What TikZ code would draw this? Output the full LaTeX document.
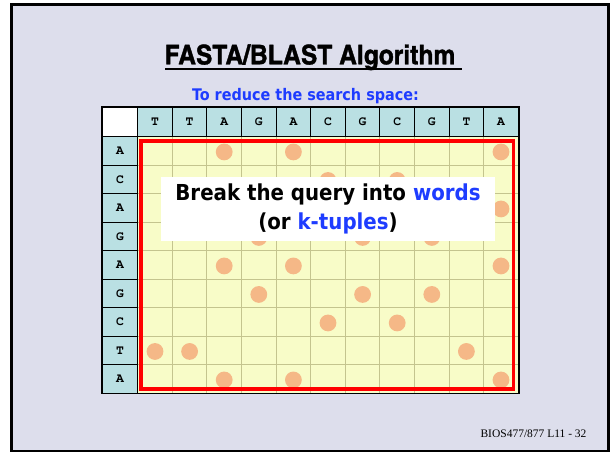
\documentclass[tikz,border=0pt]{standalone}
\usepackage{fontspec}
\setmainfont{DejaVu Sans}
\newfontfamily\titlefont[FakeBold=1.2, FakeStretch=1.11]{texgyreheroscn-bold.otf}
\newfontfamily\notefont{DejaVu Sans Condensed}
\newfontfamily\seqfont{texgyrecursor-bold.otf}
\newfontfamily\footfont{Liberation Serif}

\definecolor{slidebg}{RGB}{221,222,236}
\definecolor{cellyellow}{RGB}{248,252,200}
\definecolor{gridline}{RGB}{196,196,142}
\definecolor{headcyan}{RGB}{186,224,227}
\definecolor{dotpeach}{RGB}{245,184,135}
\definecolor{wordblue}{RGB}{30,60,255}

\tikzset{
  slide/.style={fill=slidebg, draw=black, line width=2.6pt},
  cell/.style={draw=gridline, fill=cellyellow, line width=0.9pt,
    minimum width=34.6pt, minimum height=28.5pt, inner sep=0pt},
  hcell/.style={draw=black, fill=headcyan, line width=1.1pt,
    minimum width=34.6pt, minimum height=28.5pt, inner sep=0pt,
    font=\seqfont\fontsize{13}{13}\selectfont},
  dot/.style={fill=dotpeach},
  hitbox/.style={draw=red, line width=3.4pt},
  notebox/.style={fill=white, minimum width=334pt, minimum height=64pt,
    inner sep=0pt, align=center,
    font=\notefont\bfseries\fontsize{22}{29}\selectfont},
}

\begin{document}
\begin{tikzpicture}[x=1pt, y=-1pt]
\useasboundingbox (0,0) rectangle (610,452);

% slide frame
\draw[slide] (11.3,4.5) rectangle (608.6,451);

% title and subtitle
\node[anchor=base, inner sep=0pt,
      font=\titlefont\fontsize{27}{30}\selectfont] (title) at (310,64.3)
  {FASTA/BLAST Algorithm};
\draw[line width=2pt] (165,69.3) -- (462,69.3);
\node[anchor=base, inner sep=0pt, text=wordblue,
      font=\notefont\bfseries\fontsize{16}{18}\selectfont] (sub) at (305.5,100.7)
  {To reduce the search space:};

% dot-plot cells
\foreach \i in {1,...,11}
  \foreach \j in {1,...,9}
    \node[cell] (c-\i-\j) at ({137.7+(\i-0.5)*34.6},{136.7+(\j-0.5)*28.5}) {};

% sequence headers
\node[draw=black, fill=white, line width=1.1pt, minimum width=35.4pt,
      minimum height=29.4pt, inner sep=0pt] (corner) at (120,122) {};
\foreach \s [count=\i] in {T,T,A,G,A,C,G,C,G,T,A}
  \node[hcell, minimum height=29.4pt] (h-\i) at ({137.7+(\i-0.5)*34.6},122) {\s};
\foreach \s [count=\j] in {A,C,A,G,A,G,C,T,A}
  \node[hcell, minimum width=35.4pt] (r-\j) at (120,{136.7+(\j-0.5)*28.5}) {\s};

% outer border of the matrix
\draw[line width=1.6pt] (corner.north west) rectangle (c-11-9.south east);

% matching letters
\foreach \i/\j in {3/1,5/1,11/1, 6/2,8/2, 3/3,5/3,11/3, 4/4,7/4,9/4,
                   3/5,5/5,11/5, 4/6,7/6,9/6, 6/7,8/7, 1/8,2/8,10/8,
                   3/9,5/9,11/9}
  \fill[dot] ([yshift=-1pt]c-\i-\j.center) circle (8.4pt);

% search region
\draw[hitbox] (141,141) rectangle (513.5,389);

% note
\node[notebox] (note) at (328,209)
  {Break the query into \textcolor{wordblue}{words}\\
   (or \textcolor{wordblue}{k-tuples})};

% footer
\node[anchor=base east, inner sep=0pt,
      font=\footfont\fontsize{11.5}{13}\selectfont] (foot) at (586.7,437)
  {BIOS477/877 L11 - 32};
\end{tikzpicture}
\end{document}
